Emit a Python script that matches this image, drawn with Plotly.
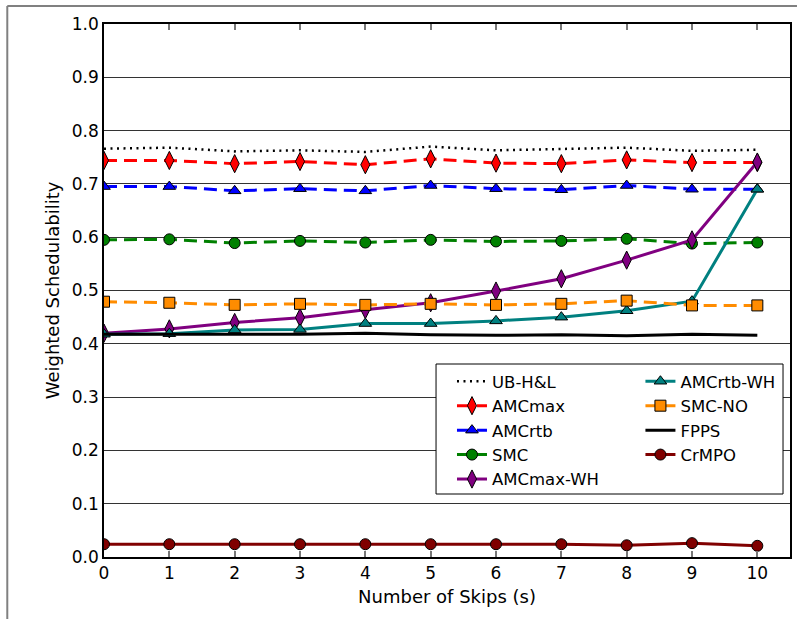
import plotly.graph_objects as go

skips = [0, 1, 2, 3, 4, 5, 6, 7, 8, 9, 10]

ub_hl = [0.766, 0.768, 0.761, 0.763, 0.760, 0.770, 0.763, 0.765, 0.768, 0.762, 0.764]
amcmax = [0.744, 0.744, 0.738, 0.742, 0.736, 0.747, 0.739, 0.738, 0.745, 0.740, 0.740]
amcrtb = [0.695, 0.695, 0.687, 0.691, 0.687, 0.697, 0.691, 0.689, 0.697, 0.690, 0.690]
smc = [0.595, 0.596, 0.589, 0.593, 0.590, 0.595, 0.592, 0.593, 0.597, 0.588, 0.590]
amcmax_wh = [0.420, 0.428, 0.440, 0.449, 0.464, 0.477, 0.499, 0.522, 0.557, 0.595, 0.741]
amcrtb_wh = [0.418, 0.419, 0.426, 0.427, 0.438, 0.438, 0.443, 0.450, 0.462, 0.480, 0.690]
smc_no = [0.479, 0.477, 0.473, 0.475, 0.473, 0.475, 0.473, 0.475, 0.481, 0.472, 0.472]
fpps = [0.418, 0.418, 0.418, 0.418, 0.420, 0.417, 0.416, 0.417, 0.415, 0.418, 0.416]
crmpo = [0.024, 0.024, 0.024, 0.024, 0.024, 0.024, 0.024, 0.024, 0.022, 0.026, 0.021]

y_ticks = [0.0, 0.1, 0.2, 0.3, 0.4, 0.5, 0.6, 0.7, 0.8, 0.9, 1.0]

FONT = "DejaVu Sans"
LW = 3

series = [
    # name, data, color, dash, symbol, msize, legend, rank
    ("UB-H&L", ub_hl, "black", "2px,4.5px", None, 0, "legend", 1),
    ("AMCmax", amcmax, "#ff0000", "13px,7px", "diamond-tall", 13, "legend", 2),
    ("AMCrtb", amcrtb, "#0000ff", "13px,7px", "triangle-up", 11, "legend", 3),
    ("SMC", smc, "#008000", "13px,7px", "circle", 11, "legend", 4),
    ("AMCmax-WH", amcmax_wh, "#800080", "solid", "diamond-tall", 13, "legend", 5),
    ("AMCrtb-WH", amcrtb_wh, "#008080", "solid", "triangle-up", 11, "legend2", 6),
    ("SMC-NO", smc_no, "#ff8c00", "13px,7px", "square", 11, "legend2", 7),
    ("FPPS", fpps, "black", "solid", None, 0, "legend2", 8),
    ("CrMPO", crmpo, "#800000", "solid", "circle", 11, "legend2", 9),
]

fig = go.Figure()
for name, data, color, dash, sym, ms, leg, rank in series:
    if sym is None:
        fig.add_trace(go.Scatter(
            x=skips, y=data, name=name, mode="lines",
            line=dict(color=color, width=LW if name == "FPPS" else 2.5, dash=dash),
            legend=leg, legendrank=rank, legendgroup=name,
        ))
    else:
        fig.add_trace(go.Scatter(
            x=skips, y=data, name=name, mode="lines+markers",
            line=dict(color=color, width=LW, dash=dash),
            marker=dict(symbol=sym, size=ms, color=color, line=dict(color="black", width=1)),
            legend=leg, legendrank=rank, legendgroup=name,
        ))

W, H = 797, 619
ml, mr, mt, mb = 104, 5, 24, 62
pw, ph = W - ml - mr, H - mt - mb

def px_to_paper_x(px):
    return (px - ml) / pw

def px_to_paper_y(py):
    return (H - mb - py) / ph

legend_common = dict(
    font=dict(family=FONT, size=16.5, color="black"),
    bgcolor="rgba(255,255,255,0)",
    borderwidth=0,
    tracegroupgap=4,
    itemwidth=30,
    xanchor="left", yanchor="top",
    traceorder="normal",
)

fig.update_layout(
    width=W, height=H,
    margin=dict(l=ml, r=mr, t=mt, b=mb),
    plot_bgcolor="white", paper_bgcolor="white",
    font=dict(family=FONT, size=17, color="black"),
    legend=dict(x=px_to_paper_x(453), y=px_to_paper_y(364), **legend_common),
    legend2=dict(x=px_to_paper_x(642), y=px_to_paper_y(364), **legend_common),
    xaxis=dict(
        range=[0, 10.5], tickvals=skips, ticktext=[str(s) for s in skips],
        ticks="inside", ticklen=6, tickcolor="#777", tickwidth=1.5,
        showline=True, linecolor="black", linewidth=1.5, mirror="ticks",
        showgrid=False, zeroline=False,
        title=dict(text="Number of Skips (s)", font=dict(family=FONT, size=18), standoff=8),
        tickfont=dict(family=FONT, size=17),
    ),
    yaxis=dict(
        range=[0, 1.0], tickvals=y_ticks, ticktext=[f"{v:.1f}" for v in y_ticks],
        ticks="", showline=True, linecolor="black", linewidth=1.5, mirror=True,
        showgrid=True, gridcolor="#333", gridwidth=1, zeroline=False,
        title=dict(text="Weighted Schedulability", font=dict(family=FONT, size=18), standoff=8),
        tickfont=dict(family=FONT, size=17),
    ),
)

# legend box
fig.add_shape(type="rect", xref="paper", yref="paper",
              x0=px_to_paper_x(437), x1=px_to_paper_x(785),
              y0=px_to_paper_y(494), y1=px_to_paper_y(364),
              line=dict(color="black", width=1), fillcolor="white", layer="above")
# outer figure frame (left and top edges)
fig.add_shape(type="line", xref="paper", yref="paper",
              x0=px_to_paper_x(7), x1=px_to_paper_x(7),
              y0=px_to_paper_y(H + 2), y1=px_to_paper_y(6),
              line=dict(color="#808080", width=2))
fig.add_shape(type="line", xref="paper", yref="paper",
              x0=px_to_paper_x(7), x1=px_to_paper_x(W + 2),
              y0=px_to_paper_y(6), y1=px_to_paper_y(6),
              line=dict(color="#808080", width=2))

fig.write_html("out.html")
